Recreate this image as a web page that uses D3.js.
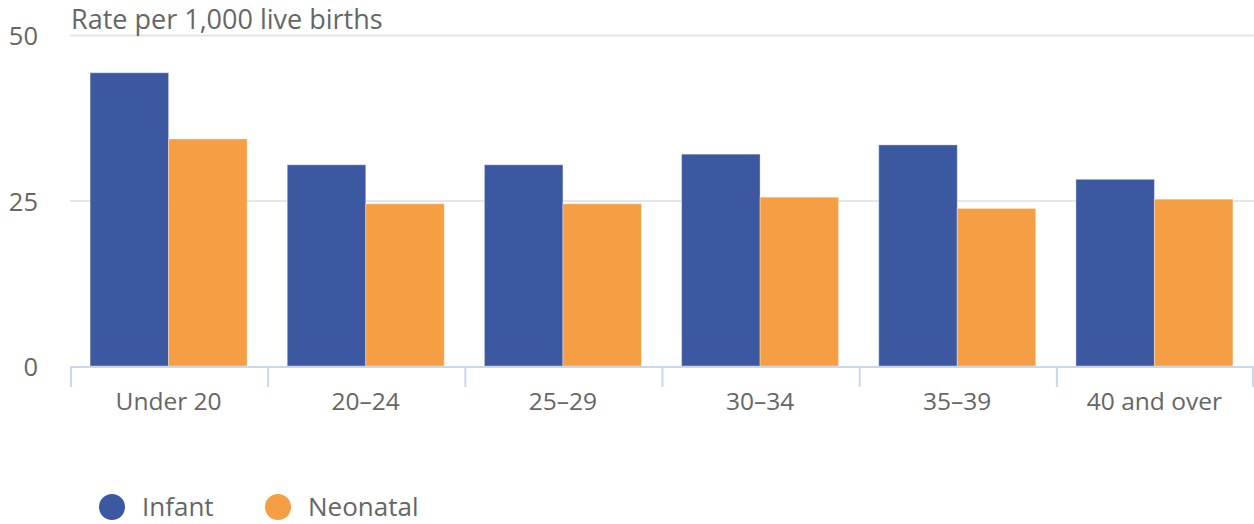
<!DOCTYPE html>
<html>
<head>
<meta charset="utf-8">
<script src="https://cdn.jsdelivr.net/npm/d3@7"></script>
<style>
    html, body { margin: 0; padding: 0; background: #fff; }
    svg { display: block; font-family: "Open Sans", sans-serif; }
</style>
</head>
<body>
<svg id="chart" width="1254" height="524"></svg>
<script>
    var CATEGORIES = ['Under 20', '20\u201324', '25\u201329', '30\u201334', '35\u201339', '40 and over'],
        SERIES_NAMES = ['Infant', 'Neonatal'],
        INFANT = [44.3, 30.4, 30.4, 32.0, 33.4, 28.2],
        NEONATAL = [34.3, 24.5, 24.5, 25.5, 23.8, 25.2],
        Y_TICKS = [0, 25, 50],
        COLORS = ['#3c58a0', '#f59e43'];

    var WIDTH = 1254,
        MARGIN = { left: 70, right: 1, top: 35 },
        PLOT_BOTTOM = 366;

    var svg = d3.select('#chart');

    var x = d3.scaleBand()
        .domain(CATEGORIES)
        .range([MARGIN.left, WIDTH - MARGIN.right])
        .paddingInner(0)
        .paddingOuter(0);

    // two bars per category, with a gap on both sides
    var xInner = d3.scaleBand()
        .domain(SERIES_NAMES)
        .range([0, x.bandwidth()])
        .paddingOuter(0.256)
        .paddingInner(0);

    var y = d3.scaleLinear()
        .domain([0, 50])
        .range([PLOT_BOTTOM, MARGIN.top]);

    // grid lines
    svg.append('g')
        .selectAll('line')
        .data(Y_TICKS.filter(function (d) { return d > 0; }))
        .enter().append('line')
        .attr('x1', MARGIN.left)
        .attr('x2', WIDTH)
        .attr('y1', function (d) { return y(d) + 0.5; })
        .attr('y2', function (d) { return y(d) + 0.5; })
        .attr('stroke', '#e6e6e6')
        .attr('stroke-width', 2);

    // y labels
    svg.append('g')
        .selectAll('text')
        .data(Y_TICKS)
        .enter().append('text')
        .attr('x', 38)
        .attr('y', function (d) { return y(d) + 10; })
        .attr('text-anchor', 'end')
        .attr('fill', '#666')
        .style('font-size', '25.5px')
        .text(function (d) { return d; });

    // axis title
    svg.append('text')
        .attr('x', 71)
        .attr('y', 29)
        .attr('fill', '#666')
        .style('font-size', '27px')
        .text('Rate per 1,000 live births');

    // bars
    var data = CATEGORIES.map(function (c, i) {
        return { cat: c, values: [INFANT[i], NEONATAL[i]] };
    });

    var groups = svg.append('g')
        .selectAll('g')
        .data(data)
        .enter().append('g')
        .attr('transform', function (d) { return 'translate(' + x(d.cat) + ',0)'; });

    groups.selectAll('rect')
        .data(function (d) {
            return d.values.map(function (v, i) { return { name: SERIES_NAMES[i], value: v, i: i }; });
        })
        .enter().append('rect')
        .attr('x', function (d) { return xInner(d.name); })
        .attr('width', xInner.bandwidth())
        .attr('y', function (d) { return y(d.value); })
        .attr('height', function (d) { return PLOT_BOTTOM - y(d.value); })
        .attr('fill', function (d) { return COLORS[d.i]; })
        .attr('stroke', 'rgba(255,255,255,0.35)')
        .attr('stroke-width', 1);

    // x axis
    var xAxisG = svg.append('g');
    xAxisG.append('line')
        .attr('x1', MARGIN.left)
        .attr('x2', WIDTH - MARGIN.right)
        .attr('y1', PLOT_BOTTOM + 1)
        .attr('y2', PLOT_BOTTOM + 1)
        .attr('stroke', '#ccd6eb')
        .attr('stroke-width', 2);

    var tickPos = CATEGORIES.map(function (c) { return x(c); }).concat([WIDTH - MARGIN.right - 1]);
    xAxisG.selectAll('line.tick')
        .data(tickPos)
        .enter().append('line')
        .attr('class', 'tick')
        .attr('x1', function (d) { return d + 1; })
        .attr('x2', function (d) { return d + 1; })
        .attr('y1', PLOT_BOTTOM)
        .attr('y2', PLOT_BOTTOM + 21)
        .attr('stroke', '#ccd6eb')
        .attr('stroke-width', 2);

    xAxisG.selectAll('text')
        .data(CATEGORIES)
        .enter().append('text')
        .attr('x', function (d) { return x(d) + x.bandwidth() / 2; })
        .attr('y', 410)
        .attr('text-anchor', 'middle')
        .attr('fill', '#666')
        .style('font-size', '24.5px')
        .text(function (d) { return d; });

    // legend
    var legend = svg.append('g')
        .selectAll('g')
        .data(SERIES_NAMES)
        .enter().append('g')
        .attr('transform', function (d, i) { return 'translate(' + (112 + i * 166) + ',507)'; });

    legend.append('circle')
        .attr('r', 13)
        .attr('fill', function (d, i) { return COLORS[i]; });

    legend.append('text')
        .attr('x', 30)
        .attr('y', 9)
        .attr('fill', '#666')
        .style('font-size', '26px')
        .text(function (d) { return d; });
</script>
</body>
</html>
